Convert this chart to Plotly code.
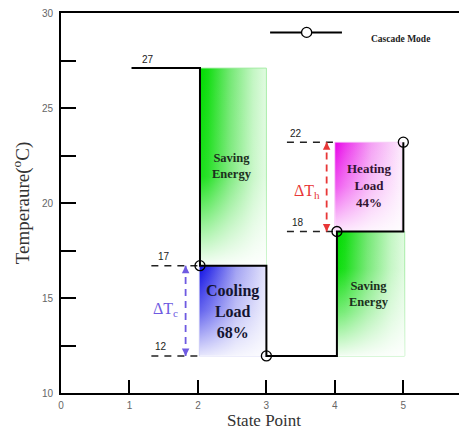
import plotly.graph_objects as go

# ---------------- data ----------------
state_x = [1.03, 2.03, 2.03, 3.0, 3.0, 4.03, 4.03, 5.0, 5.0]
temp_y = [27.1, 27.1, 16.7, 16.7, 11.95, 11.95, 18.5, 18.5, 23.2]
marker_x = [2.03, 3.0, 4.03, 5.0]
marker_y = [16.7, 11.95, 18.5, 23.2]

# shaded regions
box_x0 = [2.03, 2.02, 4.0, 4.03]
box_x1 = [3.0, 3.0, 4.97, 5.02]
box_y0 = [16.7, 11.95, 18.5, 11.95]
box_y1 = [27.1, 16.7, 23.2, 18.5]
box_text = ["Saving<br>Energy", "Cooling<br>Load<br>68%", "Heating<br>Load<br>44%", "Saving<br>Energy"]
box_text_x = [2.5, 2.5, 4.5, 4.5]
box_text_y = [21.95, 14.3, 20.9, 15.2]

# value labels
value_labels = ["27", "17", "12", "22", "18"]
value_label_x = [1.27, 1.5, 1.46, 3.43, 3.46]
value_label_y = [27.1, 16.7, 11.95, 23.2, 18.5]

# dashed reference lines
ref_x0 = [1.32, 1.32, 3.3, 3.3]
ref_x1 = [2.0, 2.0, 4.0, 4.0]
ref_y = [16.7, 11.95, 23.2, 18.5]

# delta-T arrows
dt_x = [1.82, 3.88]
dt_low = [11.95, 18.5]
dt_high = [16.7, 23.2]
dt_labels = ["ΔT<sub>c</sub>", "ΔT<sub>h</sub>"]
dt_label_x = [1.53, 3.6]
dt_label_y = [14.4, 20.6]

x_ticks = [0, 1, 2, 3, 4, 5]
y_ticks = [10, 12.5, 15, 17.5, 20, 22.5, 25, 27.5, 30]
y_tick_text = ["10", "", "15", "", "20", "", "25", "", "30"]

# ---------------- styles ----------------
box_scales = [
    [[0, "rgb(0,220,0)"], [0.12, "rgb(20,222,20)"], [0.45, "rgb(115,232,115)"],
     [0.8, "rgb(195,246,195)"], [1, "rgb(225,251,225)"]],
    [[0, "rgb(15,15,228)"], [0.15, "rgb(50,50,232)"], [0.55, "rgb(160,160,242)"],
     [1, "rgb(228,228,252)"]],
    [[0, "rgb(232,0,232)"], [0.15, "rgb(236,50,236)"], [0.55, "rgb(244,160,244)"],
     [1, "rgb(252,232,252)"]],
    [[0, "rgb(0,220,0)"], [0.12, "rgb(20,222,20)"], [0.45, "rgb(115,232,115)"],
     [0.8, "rgb(195,246,195)"], [1, "rgb(225,251,225)"]],
]
overlay_scales = [
    [[0, "rgba(255,255,255,0.97)"], [0.2, "rgba(255,255,255,0.6)"], [0.45, "rgba(255,255,255,0.1)"],
     [1, "rgba(255,255,255,0)"]],
    [[0, "rgba(255,255,255,0.9)"], [0.5, "rgba(255,255,255,0.35)"], [1, "rgba(255,255,255,0)"]],
    [[0, "rgba(255,255,255,0.9)"], [0.5, "rgba(255,255,255,0.35)"], [1, "rgba(255,255,255,0)"]],
    [[0, "rgba(255,255,255,0.95)"], [0.35, "rgba(255,255,255,0.45)"], [0.7, "rgba(255,255,255,0.05)"],
     [1, "rgba(255,255,255,0)"]],
]
box_edge = ["rgba(160,235,160,0.9)", "rgba(200,200,245,0.7)", "rgba(245,200,245,0.7)", "rgba(160,235,160,0.9)"]
box_font_size = [12.5, 16, 13, 12.5]
box_font_color = ["#1c2e1c", "#141430", "#321432", "#1c2e1c"]
dt_colors = ["rgb(110,90,225)", "rgb(232,55,55)"]

fig = go.Figure()

for i in range(len(box_x0)):
    xs = [box_x0[i], box_x1[i], box_x1[i], box_x0[i], box_x0[i]]
    ys = [box_y0[i], box_y0[i], box_y1[i], box_y1[i], box_y0[i]]
    fig.add_trace(go.Scatter(
        x=xs, y=ys, mode="lines", fill="toself",
        line=dict(color=box_edge[i], width=1),
        fillgradient=dict(type="horizontal", colorscale=box_scales[i]),
        hoverinfo="skip", showlegend=False))
    fig.add_trace(go.Scatter(
        x=xs, y=ys, mode="lines", fill="toself",
        line=dict(width=0),
        fillgradient=dict(type="vertical", colorscale=overlay_scales[i]),
        hoverinfo="skip", showlegend=False))

# dashed reference lines
for i in range(len(ref_y)):
    fig.add_trace(go.Scatter(
        x=[ref_x0[i], ref_x1[i]], y=[ref_y[i], ref_y[i]], mode="lines",
        line=dict(color="#222", width=1.5, dash="7px,6px"),
        hoverinfo="skip", showlegend=False))

# delta-T dashed arrows
for i in range(len(dt_x)):
    fig.add_trace(go.Scatter(
        x=[dt_x[i], dt_x[i]], y=[dt_low[i], dt_high[i]], mode="lines",
        line=dict(color=dt_colors[i], width=1.8, dash="7px,5px"),
        hoverinfo="skip", showlegend=False))
    for yy, ay in ((dt_high[i], 8), (dt_low[i], -8)):
        fig.add_annotation(x=dt_x[i], y=yy, ax=0, ay=ay, text="", showarrow=True,
                           arrowhead=2, arrowsize=1, arrowwidth=1.5,
                           arrowcolor=dt_colors[i])
    fig.add_annotation(x=dt_label_x[i], y=dt_label_y[i], text=dt_labels[i], showarrow=False,
                       font=dict(family="Liberation Serif", size=16, color=dt_colors[i]))

# step line
fig.add_trace(go.Scatter(x=state_x, y=temp_y, mode="lines",
                         line=dict(color="black", width=2),
                         hoverinfo="skip", showlegend=False))
fig.add_trace(go.Scatter(x=marker_x, y=marker_y, mode="markers",
                         marker=dict(symbol="circle-open", size=10, color="black",
                                     line=dict(width=1.3)),
                         hoverinfo="skip", showlegend=False))

# box texts
for i in range(len(box_text)):
    fig.add_annotation(x=box_text_x[i], y=box_text_y[i], text="<b>" + box_text[i] + "</b>",
                       showarrow=False,
                       font=dict(family="Liberation Serif", size=box_font_size[i],
                                 color=box_font_color[i]))

# value labels
for i in range(len(value_labels)):
    fig.add_annotation(x=value_label_x[i], y=value_label_y[i], text=value_labels[i],
                       showarrow=False, yshift=9,
                       font=dict(family="Liberation Sans", size=10, color="#222"))

# legend (drawn)
fig.add_shape(type="line", xref="paper", yref="paper", x0=0.515, x1=0.692, y0=0.949, y1=0.949,
              line=dict(color="black", width=2))
fig.add_shape(type="circle", xref="paper", yref="paper", x0=0.5925, x1=0.6175,
              y0=0.936, y1=0.962, line=dict(color="black", width=1.3), fillcolor="white")
fig.add_annotation(xref="paper", yref="paper", x=0.759, y=0.949, xanchor="left",
                   text="<b>Cascade Mode</b>", showarrow=False,
                   font=dict(family="Liberation Serif", size=9.5, color="#222"))

fig.update_layout(
    width=459, height=422,
    margin=dict(l=53, r=0, t=5, b=37),
    paper_bgcolor="white", plot_bgcolor="white",
    xaxis=dict(range=[0, 5.93], tickvals=x_ticks, ticks="inside", ticklen=13, tickwidth=2,
               tickcolor="black", showline=True, linecolor="black", linewidth=2, mirror=True,
               showgrid=False, zeroline=False, ticklabelstandoff=2, ticklabeloverflow="allow",
               tickfont=dict(family="Liberation Sans", size=10, color="#666"),
               title=dict(text="State Point", standoff=5,
                          font=dict(family="Liberation Serif", size=17, color="#333"))),
    yaxis=dict(range=[10, 30], tickvals=y_ticks, ticktext=y_tick_text, ticks="inside",
               ticklen=15, tickwidth=2, tickcolor="black", showline=True, linecolor="black",
               linewidth=2, showgrid=False, zeroline=False, ticklabelstandoff=4,
               ticklabeloverflow="allow",
               tickfont=dict(family="Liberation Sans", size=10, color="#666"),
               title=dict(text="Temperaure(<sup>o</sup>C)", standoff=7,
                          font=dict(family="Liberation Serif", size=19, color="#333"))),
)

fig.write_html("out.html")
